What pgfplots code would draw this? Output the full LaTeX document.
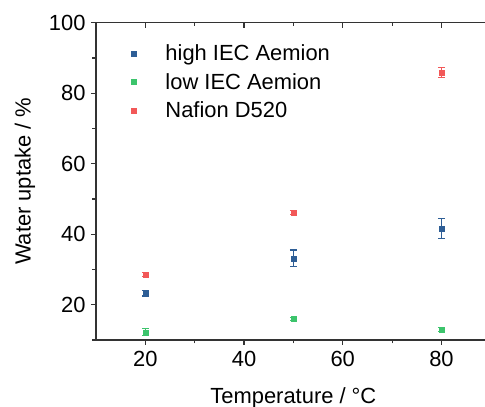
\documentclass[border=0pt]{standalone}
\usepackage{pgfplots}
\pgfplotsset{compat=1.18}
\usepackage{fontspec}
\setmainfont{Liberation Sans}
\definecolor{cblue}{HTML}{2E5E96}
\definecolor{cgreen}{HTML}{3CC46C}
\definecolor{cred}{HTML}{F25858}
\definecolor{caxis}{HTML}{333333}
\begin{document}
\begin{tikzpicture}
\pgfplotsset{
  common/.style={
    scale only axis, width=394.8bp, height=317.3bp,
    xmin=10, xmax=90, ymin=10, ymax=100,
    xtick={20,40,60,80}, minor xtick={30,50,70,90},
    ytick={20,40,60,80,100}, minor ytick={10,30,50,70,90},
    axis line style={line width=1.2bp, color=caxis},
    every tick/.style={line width=1.2bp, color=caxis},
    major tick length=5bp, minor tick length=3.5bp,
    tick label style={font=\fontsize{22}{26}\selectfont},
    /pgf/number format/assume math mode=true,
  },
}
\begin{axis}[common, name=ax,
  xtick pos=bottom, ytick pos=left, tick align=outside,
  xticklabel style={yshift=-3bp},
  yticklabel style={xshift=-2bp},
  xlabel={Temperature / °C}, ylabel={Water uptake / \%},
  label style={font=\fontsize{22}{26}\selectfont},
  xlabel style={yshift=-14bp},
  ylabel style={yshift=7bp},
  legend style={at={(0.08,0.943)}, anchor=north west, draw=none, fill=none,
    font=\fontsize{22}{26}\selectfont, row sep=7bp},
  legend cell align=left,
  legend image code/.code={\draw[#1] plot coordinates {(0bp,0bp)}; \path (-2bp,0bp) (30bp,0bp);},
]
\addplot[only marks, mark=square*, color=cblue, mark size=2.5bp,
  error bars/.cd, y dir=both, y explicit,
  error bar style={line width=1.2bp},
  error mark options={rotate=90, mark size=3.5bp, line width=1.2bp}]
  table[x=x, y=y, y error=e] {
x y e
20 23.3 0.8
50 33.2 2.3
80 41.6 2.8
};
\addlegendentry{high IEC Aemion}
\addplot[only marks, mark=square*, color=cgreen, mark size=2.5bp,
  error bars/.cd, y dir=both, y explicit,
  error bar style={line width=1.2bp},
  error mark options={rotate=90, mark size=3.5bp, line width=1.2bp}]
  table[x=x, y=y, y error=e] {
x y e
20 12.2 1.0
50 16.0 0.4
80 13.0 0.6
};
\addlegendentry{low IEC Aemion}
\addplot[only marks, mark=square*, color=cred, mark size=2.5bp,
  error bars/.cd, y dir=both, y explicit,
  error bar style={line width=1.2bp},
  error mark options={rotate=90, mark size=3.5bp, line width=1.2bp}]
  table[x=x, y=y, y error=e] {
x y e
20 28.6 0.6
50 46.2 0.5
80 85.8 1.4
};
\addlegendentry{Nafion D520}
\end{axis}
\begin{axis}[common,
  xtick pos=top, ytick pos=right, tick align=inside,
  xticklabels={}, yticklabels={}]
\end{axis}
\pgfresetboundingbox
\path[use as bounding box] ([xshift=-96bp,yshift=-67bp]ax.south west) rectangle ([xshift=389bp,yshift=22.7bp]ax.north west);
\end{tikzpicture}
\end{document}
